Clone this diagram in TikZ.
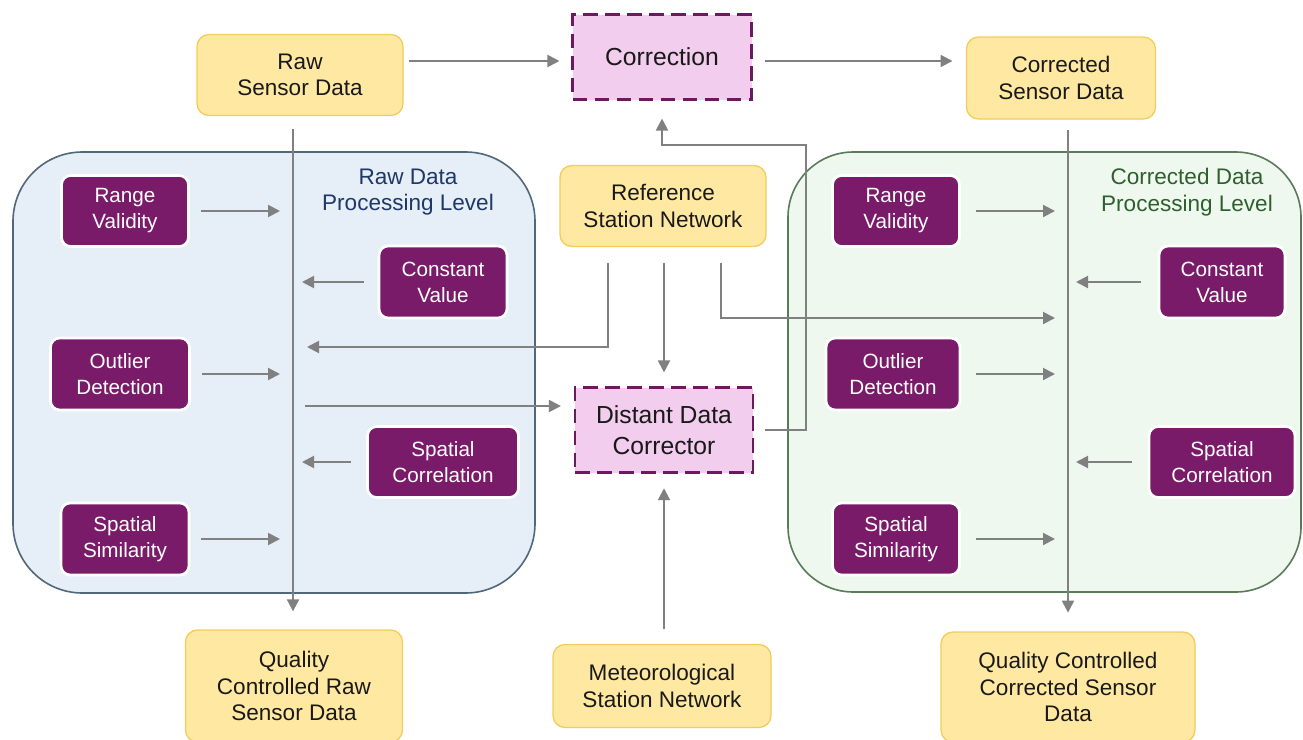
\documentclass[tikz,border=0pt]{standalone}
\usepackage{fontspec}
\setmainfont{Liberation Sans}
\usetikzlibrary{arrows.meta}

\definecolor{ylwfill}{HTML}{FFE8A1}
\definecolor{ylwedge}{HTML}{F2CC5C}
\definecolor{purp}{HTML}{7A1B6A}
\definecolor{pinkfill}{HTML}{F2CDEE}
\definecolor{dashedge}{HTML}{6B1A60}
\definecolor{bluefill}{HTML}{E6EEF7}
\definecolor{blueedge}{HTML}{50687A}
\definecolor{greenfill}{HTML}{EEF8EF}
\definecolor{greenedge}{HTML}{5A7A5A}
\definecolor{navytxt}{HTML}{1F3868}
\definecolor{greentxt}{HTML}{2F5F2F}
\definecolor{conn}{HTML}{808080}

\begin{document}
\begin{tikzpicture}[
  x=0.75pt, y=-0.75pt,
  sz/.style 2 args={minimum width=#1*0.75pt, minimum height=#2*0.75pt},
  ybox/.style={draw=ylwedge, line width=1pt, fill=ylwfill, rounded corners=9pt,
    align=center, inner sep=0pt, text=black!90, font=\fontsize{16.9}{20}\selectfont},
  pbox/.style={draw=white, line width=2pt, fill=purp, rounded corners=7pt,
    align=center, inner sep=0pt, text=white, font=\fontsize{15.5}{19.5}\selectfont},
  dbox/.style={draw=dashedge, line width=1.6pt, dash pattern=on 11pt off 5.5pt,
    fill=pinkfill, align=center, inner sep=0pt, text=black!90,
    font=\fontsize{18.5}{23}\selectfont},
  ptitle/.style={align=center, inner sep=0pt, font=\fontsize{16.9}{20}\selectfont},
  arr/.style={draw=conn, line width=1.5pt, -{Triangle[length=9pt,width=9pt]}},
  conline/.style={draw=conn, line width=1.5pt}
]
\useasboundingbox (0,0) rectangle (1303,739);

% processing-level panels
\path[fill=bluefill, draw=blueedge, line width=1.2pt, rounded corners=52pt]
  (13,152) rectangle (535,593);
\path[fill=greenfill, draw=greenedge, line width=1.2pt, rounded corners=49pt]
  (788,152) rectangle (1301,592);

\node[ptitle, text=navytxt] (tleft) at (408,192) {Raw Data\\Processing Level};
\node[ptitle, text=greentxt] (tright) at (1187,192) {Corrected Data\\Processing Level};

% data nodes
\node[ybox, sz={206}{81}] (raw) at (300,75) {Raw\\Sensor Data};
\node[ybox, sz={189}{82}] (cor) at (1061,78) {Corrected\\Sensor Data};
\node[ybox, sz={206}{81}] (ref) at (663,206) {Reference\\Station Network};
\node[ybox, sz={218}{83}] (met) at (662,686) {Meteorological\\Station Network};
\node[ybox, sz={217}{112}] (qcraw) at (294,686) {Quality\\Controlled Raw\\Sensor Data};
\node[ybox, sz={254}{110}] (qccor) at (1068,687) {Quality Controlled\\Corrected Sensor\\Data};

% correction steps
\node[dbox, sz={179}{85}] (corr) at (662,57) {Correction};
\node[dbox, sz={178}{85}] (ddc) at (664,430) {Distant Data\\Corrector};

% checks, raw level
\node[pbox, sz={127}{71}] (lrv) at (125,211) {Range\\Validity};
\node[pbox, sz={128}{72}] (lcv) at (443,282) {Constant\\Value};
\node[pbox, sz={139}{72}] (lod) at (120,374) {Outlier\\Detection};
\node[pbox, sz={151}{71}] (lsc) at (443,462) {Spatial\\Correlation};
\node[pbox, sz={128}{72}] (lss) at (125,539) {Spatial\\Similarity};

% checks, corrected level
\node[pbox, sz={127}{71}] (rrv) at (896,211) {Range\\Validity};
\node[pbox, sz={126}{72}] (rcv) at (1222,282) {Constant\\Value};
\node[pbox, sz={134}{72}] (rod) at (893,374) {Outlier\\Detection};
\node[pbox, sz={146}{71}] (rsc) at (1222,462) {Spatial\\Correlation};
\node[pbox, sz={127}{72}] (rss) at (896,539) {Spatial\\Similarity};

% routing helpers
\coordinate (lv) at (293,0);
\coordinate (rv) at (1068,0);
\coordinate (topy) at (0,61);
\coordinate (rA) at (608,0);
\coordinate (rB) at (721,0);
\coordinate (rLy) at (0,347);
\coordinate (rRy) at (0,318);
\coordinate (dY) at (0,406);
\coordinate (jx) at (806,0);
\coordinate (jy) at (0,145);

% main flow
\draw[arr, shorten <=3.75pt, shorten >=9pt] (raw.east |- topy) -- (corr.west |- topy);
\draw[arr, shorten <=9.4pt, shorten >=10pt] (corr.east |- topy) -- (cor.west |- topy);
\draw[arr, shorten <=9.4pt, shorten >=13.5pt] (raw.south -| lv) -- (qcraw.north -| lv);
\draw[arr, shorten <=8pt, shorten >=14pt] (cor.south -| rv) -- (qccor.north -| rv);

% raw-level checks
\draw[arr, shorten <=8.25pt, shorten >=9.75pt] (lrv.east) -- (lrv.east -| lv);
\draw[arr, shorten <=10.5pt, shorten >=6.75pt] (lcv.west) -- (lcv.west -| lv);
\draw[arr, shorten <=8pt, shorten >=9.75pt] (lod.east) -- (lod.east -| lv);
\draw[arr, shorten <=11.6pt, shorten >=6.75pt] (lsc.west) -- (lsc.west -| lv);
\draw[arr, shorten <=8.25pt, shorten >=9.75pt] (lss.east) -- (lss.east -| lv);

% corrected-level checks
\draw[arr, shorten <=11.6pt, shorten >=9.75pt] (rrv.east) -- (rrv.east -| rv);
\draw[arr, shorten <=12.75pt, shorten >=6pt] (rcv.west) -- (rcv.west -| rv);
\draw[arr, shorten <=11.25pt, shorten >=9.75pt] (rod.east) -- (rod.east -| rv);
\draw[arr, shorten <=12pt, shorten >=6pt] (rsc.west) -- (rsc.west -| rv);
\draw[arr, shorten <=11.6pt, shorten >=9.75pt] (rss.east) -- (rss.east -| rv);

% reference network feeds
\draw[arr, shorten <=12pt, shorten >=10.5pt] (ref.south -| rA) -- (rA |- rLy) -- (lv |- rLy);
\draw[arr, shorten <=12pt, shorten >=10.5pt] (ref.south -| ddc.north) -- (ddc.north);
\draw[arr, shorten <=12pt, shorten >=9.75pt] (ref.south -| rB) -- (rB |- rRy) -- (rv |- rRy);

% distant data corrector
\draw[arr, shorten <=9pt, shorten >=9.75pt] (lv |- dY) -- (ddc.west |- dY);
\draw[arr, shorten <=8.25pt, shorten >=13.5pt]
  (ddc.east) -- (jx |- ddc.east) -- (jx |- jy) -- (corr.south |- jy) -- (corr.south);
\draw[arr, shorten <=11pt, shorten >=11pt] (met.north -| ddc.south) -- (ddc.south);

\end{tikzpicture}
\end{document}
